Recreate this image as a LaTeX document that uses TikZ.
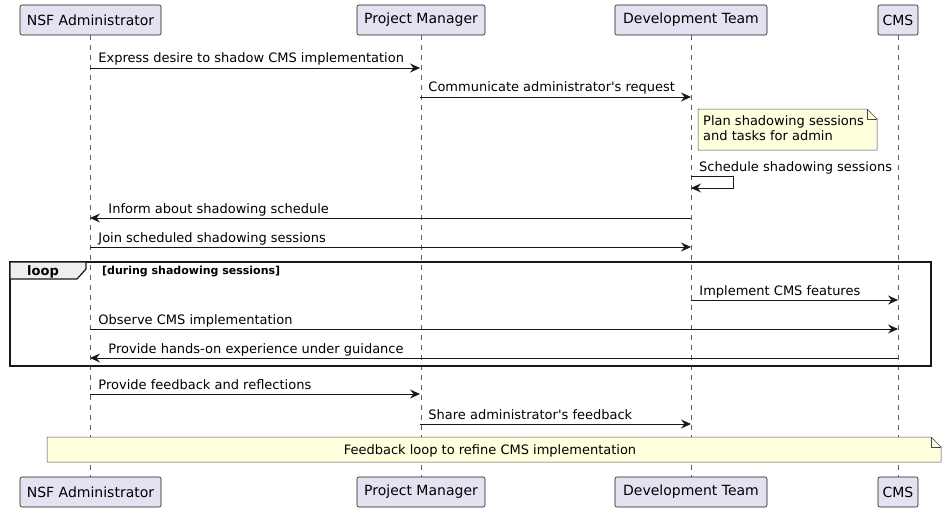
\documentclass[tikz,border=0pt]{standalone}
\usepackage{fontspec}
\setmainfont{DejaVu Sans}[Ligatures=TeXOff]
\usetikzlibrary{arrows.meta}

\definecolor{boxfill}{HTML}{E2E2F0}
\definecolor{notefill}{HTML}{FEFFDD}
\definecolor{tabfill}{HTML}{EEEEEE}
\definecolor{edge}{HTML}{181818}

\tikzset{
actorbox/.style={draw=edge, fill=boxfill, rounded corners=2pt, line width=0.6pt,
  minimum height=30pt, inner sep=0pt, font=\fontsize{14}{16}\selectfont},
lifeline/.style={draw=edge!70, line width=0.5pt, dash pattern=on 5pt off 5pt},
msg/.style={draw=edge, line width=0.9pt, -{Stealth[length=10pt,width=9pt,inset=3.5pt]}},
msglabel/.style={anchor=base west, inner sep=0pt, font=\fontsize{13}{15}\selectfont},
notestyle/.style={draw=edge!80, fill=notefill, line width=0.5pt},
}

\begin{document}
\begin{tikzpicture}[x=1pt,y=-1pt]
\useasboundingbox (0,0) rectangle (947,511);

% participants
\node[actorbox, minimum width=141pt] (adminTop) at (90.5,20) {NSF Administrator};
\node[actorbox, minimum width=128pt] (pmTop) at (421,20) {Project Manager};
\node[actorbox, minimum width=152pt] (devTop) at (691,20) {Development Team};
\node[actorbox, minimum width=40pt] (cmsTop) at (898,20) {CMS};
\node[actorbox, minimum width=141pt] (adminBot) at (90.5,492) {NSF Administrator};
\node[actorbox, minimum width=128pt] (pmBot) at (421,492) {Project Manager};
\node[actorbox, minimum width=152pt] (devBot) at (691,492) {Development Team};
\node[actorbox, minimum width=40pt] (cmsBot) at (898,492) {CMS};

% lifelines
\foreach \who in {admin,pm,dev,cms}
  \draw[lifeline] (\who Top.south) -- (\who Bot.north);

% messages
\coordinate (a1) at (90,68);  \coordinate (p1) at (420,68);
\draw[msg] (a1) -- (p1) node[msglabel] at (98,63) {Express desire to shadow CMS implementation};
\coordinate (p2) at (420,97); \coordinate (d2) at (691,97);
\draw[msg] (p2) -- (d2) node[msglabel] at (428,92) {Communicate administrator's request};

% note on dev team
\draw[notestyle] (698,109) -- (867,109) -- (877,119) -- (877,150) -- (698,150) -- cycle;
\draw[edge!80, line width=0.5pt] (867,109) -- (867,119) -- (877,119);
\node[anchor=north west, align=left, inner sep=0pt, font=\fontsize{13}{15}\selectfont]
  (planNote) at (703,115) {Plan shadowing sessions\\and tasks for admin};

% self message
\coordinate (d3) at (691,176); \coordinate (d3e) at (691,188);
\draw[msg] (d3) -- (733,176) -- (733,188) -- (d3e);
\node[msglabel] (selfLabel) at (699,171) {Schedule shadowing sessions};

\coordinate (d4) at (691,218); \coordinate (a4) at (90,218);
\draw[msg] (d4) -- (a4) node[msglabel] at (108,213) {Inform about shadowing schedule};
\coordinate (a5) at (90,247); \coordinate (d5) at (691,247);
\draw[msg] (a5) -- (d5) node[msglabel] at (98,242) {Join scheduled shadowing sessions};

% loop frame
\draw[edge, line width=1.5pt] (10,262) rectangle (931,366);
\draw[edge, fill=tabfill, line width=1.2pt] (10,262) -- (86,262) -- (86,269) -- (77,279) -- (10,279) -- cycle;
\node[font=\bfseries\fontsize{13}{15}\selectfont, inner sep=0pt, anchor=base] (loopTag) at (43,275) {loop};
\node[font=\bfseries\fontsize{11}{13}\selectfont, inner sep=0pt, anchor=base west] (loopGuard) at (102,274) {[during shadowing sessions]};

\coordinate (d6) at (691,300); \coordinate (c6) at (898,300);
\draw[msg] (d6) -- (c6) node[msglabel] at (699,295) {Implement CMS features};
\coordinate (a7) at (90,329); \coordinate (c7) at (898,329);
\draw[msg] (a7) -- (c7) node[msglabel] at (98,324) {Observe CMS implementation};
\coordinate (c8) at (898,358); \coordinate (a8) at (90,358);
\draw[msg] (c8) -- (a8) node[msglabel] at (108,353) {Provide hands-on experience under guidance};

\coordinate (a9) at (90,394); \coordinate (p9) at (420,394);
\draw[msg] (a9) -- (p9) node[msglabel] at (98,389) {Provide feedback and reflections};
\coordinate (p10) at (420,424); \coordinate (d10) at (691,424);
\draw[msg] (p10) -- (d10) node[msglabel] at (428,419) {Share administrator's feedback};

% note across all
\draw[notestyle] (47,437) -- (931,437) -- (941,447) -- (941,462) -- (47,462) -- cycle;
\draw[edge!80, line width=0.5pt] (931,437) -- (931,447) -- (941,447);
\node[font=\fontsize{13}{15}\selectfont, inner sep=0pt, anchor=base] (feedbackNote) at (490,454) {Feedback loop to refine CMS implementation};
\end{tikzpicture}
\end{document}
